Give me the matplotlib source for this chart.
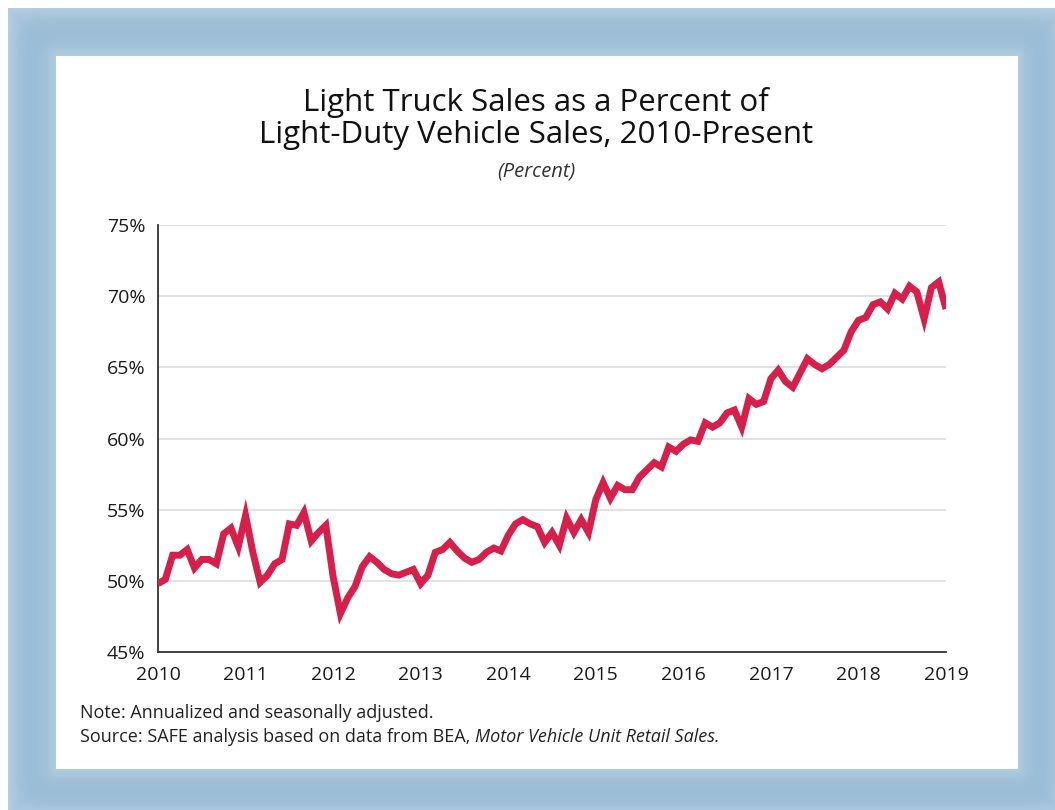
import numpy as np
import matplotlib
matplotlib.use("Agg")
import matplotlib.pyplot as plt

# ---------------- data (monthly, Jan 2010 - Jan 2019) ----------------
v2010 = [49.8, 50.1, 51.8, 51.8, 52.2, 50.9, 51.5, 51.5, 51.2, 53.3, 53.7, 52.4]
v2011 = [54.6, 52.0, 49.9, 50.4, 51.2, 51.5, 54.0, 53.9, 54.8, 52.8, 53.4, 53.9]
v2012 = [50.3, 47.7, 48.8, 49.6, 51.0, 51.7, 51.3, 50.8, 50.5, 50.4, 50.6, 50.8]
v2013 = [49.8, 50.4, 52.0, 52.2, 52.7, 52.1, 51.6, 51.3, 51.5, 52.0, 52.3, 52.1]
v2014 = [53.2, 54.0, 54.3, 54.0, 53.8, 52.7, 53.4, 52.5, 54.4, 53.4, 54.3, 53.4]
v2015 = [55.7, 56.9, 55.8, 56.7, 56.4, 56.4, 57.3, 57.8, 58.3, 58.0, 59.4, 59.1]
v2016 = [59.6, 59.9, 59.8, 61.1, 60.8, 61.1, 61.8, 62.0, 60.8, 62.8, 62.4, 62.6]
v2017 = [64.2, 64.8, 64.0, 63.6, 64.6, 65.6, 65.2, 64.9, 65.2, 65.7, 66.2, 67.5]
v2018 = [68.3, 68.5, 69.4, 69.6, 69.1, 70.2, 69.8, 70.7, 70.3, 68.4, 70.6, 71.0]
v2019 = [69.1]

start_year = 2010
year_ticks = [2010, 2011, 2012, 2013, 2014, 2015, 2016, 2017, 2018, 2019]
y_ticks = [45, 50, 55, 60, 65, 70, 75]
y_labels = ["45%", "50%", "55%", "60%", "65%", "70%", "75%"]

title_1 = "Light Truck Sales as a Percent of"
title_2 = "Light-Duty Vehicle Sales, 2010-Present"
subtitle = "(Percent)"
note = "Note: Annualized and seasonally adjusted."
source_a = "Source: SAFE analysis based on data from BEA, "
source_b = "Motor Vehicle Unit Retail Sales."

values = np.array(v2010 + v2011 + v2012 + v2013 + v2014 + v2015 + v2016 + v2017 + v2018 + v2019)
months = np.arange(len(values))
x = start_year + months / 12.0

# ---------------- figure ----------------
W, H = 1055, 810
plt.rcParams['font.family'] = ['Open Sans', 'DejaVu Sans']
fig = plt.figure(figsize=(W / 100, H / 100), dpi=100)

# decorative blurred blue frame
yy, xx = np.mgrid[0:H, 0:W].astype(float)
pl, pt, pr, pb = 56, 56, 1017, 768      # white panel
ol, ot, orr, ob = 8, 8, 1062, 815        # outer edge of frame band
# distance from inner panel and from outer edge
dx = np.maximum(np.maximum(pl - xx, xx - pr), 0)
dy = np.maximum(np.maximum(pt - yy, yy - pb), 0)
din = np.sqrt(dx ** 2 + dy ** 2)
dout = np.minimum.reduce([xx - ol, yy - ot, orr - xx, ob - yy])
tot = din + np.maximum(dout, 0)
t = np.where(tot > 0, din / np.maximum(tot, 1e-6), 0)
prof = np.sin(np.pi * np.clip(0.12 + 0.76 * t, 0, 1)) ** 0.9
dark = np.array([155, 189, 214]) / 255.0
light = np.array([196, 216, 232]) / 255.0
img = light[None, None, :] + (dark - light)[None, None, :] * prof[..., None]
inside_panel = (xx >= pl) & (xx <= pr) & (yy >= pt) & (yy <= pb)
outside = (xx < ol) | (yy < ot)
img[inside_panel] = 1.0
img[outside & ~inside_panel] = 1.0
bg = fig.add_axes([0, 0, 1, 1], zorder=-10)
bg.imshow(img, aspect='auto', interpolation='bilinear', extent=[0, W, H, 0])
bg.set_axis_off()

# main axes
L, R, T, B = 158, 946, 225, 652
ax = fig.add_axes([L / W, 1 - B / H, (R - L) / W, (B - T) / H])
ax.set_facecolor('none')
ax.plot(x, values, color='#D71F4B', lw=5.0, solid_joinstyle='miter', solid_capstyle='butt', zorder=3)

ax.set_xlim(2010, 2019)
ax.set_ylim(45, 75)
ax.set_xticks(year_ticks)
ax.set_xticklabels([str(y) for y in year_ticks])
ax.set_yticks(y_ticks)
ax.set_yticklabels(y_labels)
ax.tick_params(axis='both', length=0, labelsize=14, colors='#1a1a1a')
ax.tick_params(axis='y', pad=9)
ax.tick_params(axis='x', pad=10)
for yv in y_ticks[1:]:
    ax.axhline(yv, color='#e2e2e2', lw=1.4, zorder=1)
for s in ['top', 'right']:
    ax.spines[s].set_visible(False)
for s in ['left', 'bottom']:
    ax.spines[s].set_color('#333333')
    ax.spines[s].set_linewidth(1.3)

# titles
cx = 536 / W
fig.text(cx, 1 - 103 / H, title_1, ha='center', va='center', fontsize=22.5, color='#111111')
fig.text(cx, 1 - 135 / H, title_2, ha='center', va='center', fontsize=22.5, color='#111111')
fig.text(cx, 1 - 171 / H, subtitle, ha='center', va='center', fontsize=14.5, style='italic', color='#333333')

# notes
fig.text(80 / W, 1 - 713 / H, note, ha='left', va='center', fontsize=13, color='#222222')
src = fig.text(80 / W, 1 - 737 / H, source_a, ha='left', va='center', fontsize=13, color='#222222')
fig.add_artist(matplotlib.text.Annotation(source_b, xy=(1, 0), xycoords=src, ha='left', va='bottom',
                                          fontsize=13, style='italic', color='#222222'))

fig.savefig('out.png', dpi=100)
